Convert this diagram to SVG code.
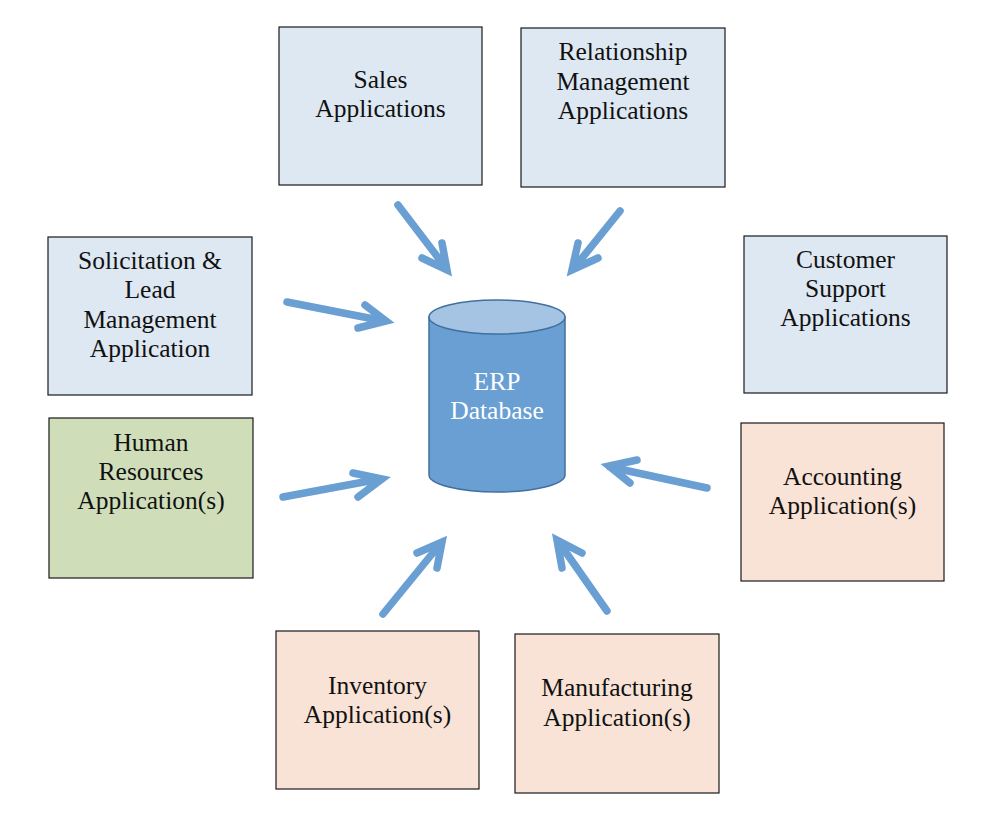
<svg xmlns="http://www.w3.org/2000/svg" width="1000" height="815" viewBox="0 0 1000 815">
<style>
.box{stroke:#1a1a1a;stroke-width:1.2}
.blue{fill:#dde8f3}
.green{fill:#cfdeb9}
.peach{fill:#f9e3d6}
.t{font-family:"Liberation Serif","Times New Roman",serif;font-size:25.5px;fill:#111;text-anchor:middle}
.w{font-family:"Liberation Serif","Times New Roman",serif;font-size:25.5px;fill:#fff;text-anchor:middle}
.arr{fill:none;stroke:#6a9fd3;stroke-width:7.5;stroke-linecap:round;stroke-linejoin:miter}
</style>
<rect width="1000" height="815" fill="#fff"/>
<g id="sales"><rect class="box blue" x="279" y="27" width="203" height="158"/><text class="t" x="380.5" y="88">Sales</text><text class="t" x="380.5" y="117">Applications</text></g>
<g id="relationship"><rect class="box blue" x="521" y="28" width="204" height="159"/><text class="t" x="623" y="60">Relationship</text><text class="t" x="623" y="90">Management</text><text class="t" x="623" y="119">Applications</text></g>
<g id="customer"><rect class="box blue" x="744" y="236" width="203" height="157"/><text class="t" x="845.5" y="268">Customer</text><text class="t" x="845.5" y="297">Support</text><text class="t" x="845.5" y="326">Applications</text></g>
<g id="solicitation"><rect class="box blue" x="48" y="237" width="204" height="158"/><text class="t" x="150" y="269">Solicitation &amp;</text><text class="t" x="150" y="298">Lead</text><text class="t" x="150" y="328">Management</text><text class="t" x="150" y="357">Application</text></g>
<g id="hr"><rect class="box green" x="49" y="418" width="204" height="160"/><text class="t" x="151" y="451">Human</text><text class="t" x="151" y="480">Resources</text><text class="t" x="151" y="509">Application(s)</text></g>
<g id="accounting"><rect class="box peach" x="741" y="423" width="203" height="158"/><text class="t" x="842.5" y="485">Accounting</text><text class="t" x="842.5" y="514">Application(s)</text></g>
<g id="inventory"><rect class="box peach" x="276" y="631" width="203" height="158"/><text class="t" x="377.5" y="694">Inventory</text><text class="t" x="377.5" y="723">Application(s)</text></g>
<g id="manufacturing"><rect class="box peach" x="515" y="634" width="204" height="159"/><text class="t" x="617" y="696">Manufacturing</text><text class="t" x="617" y="726">Application(s)</text></g>
<g id="erp">
<path d="M429,317 L429,475 A68,17 0 0 0 565,475 L565,317 Z" fill="#6a9fd3" stroke="#41709f" stroke-width="1.5"/>
<ellipse cx="497" cy="317" rx="68" ry="17" fill="#a5c4e3" stroke="#41709f" stroke-width="1.5"/>
<text class="w" x="497" y="390">ERP</text><text class="w" x="497" y="419">Database</text>
</g>
<g id="connectors">
<path class="arr" d="M398,205 L446,268 M442,243 L447,270 L422,258"/>
<path class="arr" d="M620,211 L574,268 M578,243 L572,270 L598,258"/>
<path class="arr" d="M287,302 L384,321 M365,305 L386,321 L358,328"/>
<path class="arr" d="M283,497 L380,479 M353,473 L382,479 L358,497"/>
<path class="arr" d="M707,488 L610,467 M637,460 L609,466 L630,483"/>
<path class="arr" d="M383,614 L441,543 M417,553 L442,542 L437,568"/>
<path class="arr" d="M607,611 L558,541 M582,553 L557,540 L562,568"/>
</g>
</svg>
